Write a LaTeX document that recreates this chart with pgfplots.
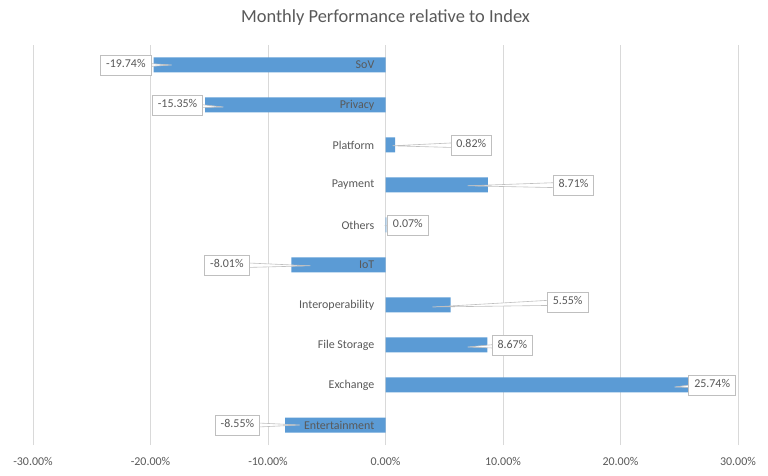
\documentclass[border=0pt]{standalone}
\usepackage{pgfplots}
\pgfplotsset{compat=1.18}
\usepackage{fontspec}
\setmainfont{Carlito}
\definecolor{barblue}{HTML}{5B9BD5}
\definecolor{txt}{HTML}{595959}
\definecolor{gridc}{HTML}{D9D9D9}
\definecolor{cbord}{HTML}{BFBFBF}
% callout: tip x, tip y, box x, box y, text
\newcommand{\callout}[5]{%
  \draw[draw=cbord, fill=white, line width=0.6bp]
    (axis cs:#1,#2) -- ([yshift=3bp]axis cs:#3,#4) -- ([yshift=-3bp]axis cs:#3,#4) -- cycle;
  \node[draw=cbord, fill=white, line width=0.8bp, text=txt, inner xsep=5.5bp, inner ysep=3bp,
        font=\fontsize{12}{14}\selectfont] at (axis cs:#3,#4) {\strut #5};}
\newcommand{\cat}[2]{%
  \node[anchor=east, inner sep=0pt, text=txt, font=\fontsize{12}{14}\selectfont]
    at ([xshift=-11bp]axis cs:0,#1) {#2};}
\begin{document}
\begin{tikzpicture}
  \begin{axis}[
    at={(0,0)}, anchor=south west,
    scale only axis,
    width=705bp, height=400bp,
    xbar, bar width=15bp,
    xmin=-30, xmax=30,
    ymin=-0.5, ymax=9.5,
    axis line style={draw=none},
    xtick={-30,-20,-10,0,10,20,30},
    xticklabels={-30.00\%,-20.00\%,-10.00\%,0.00\%,10.00\%,20.00\%,30.00\%},
    ytick=\empty,
    major tick length=0pt,
    xmajorgrids,
    grid style={gridc, line width=0.8bp},
    xticklabel style={text=txt, font=\fontsize{12}{14}\selectfont, yshift=-9bp},
    clip=false,
  ]
    \addplot[fill=barblue, draw=none] table {
      x y
      -8.55 0
      25.74 1
      8.67 2
      5.55 3
      -8.01 4
      0.07 5
      8.71 6
      0.82 7
      -15.35 8
      -19.74 9
    };
    \cat{0}{Entertainment}
    \cat{1}{Exchange}
    \cat{2}{File Storage}
    \cat{3}{Interoperability}
    \cat{4}{IoT}
    \cat{5}{Others}
    \cat{6}{Payment}
    \cat{7}{Platform}
    \cat{8}{Privacy}
    \cat{9}{SoV}
    \callout{-18.2}{9}{-22.1}{9}{-19.74\%}
    \callout{-13.8}{7.95}{-17.7}{8}{-15.35\%}
    \callout{0.6}{6.98}{7.3}{7}{0.82\%}
    \callout{7.0}{5.98}{16.0}{6}{8.71\%}
    \callout{0.05}{4.98}{1.9}{5}{0.07\%}
    \callout{-6.4}{3.98}{-13.5}{4}{-8.01\%}
    \callout{4.0}{2.95}{15.5}{3.07}{5.55\%}
    \callout{7.0}{1.95}{10.8}{1.98}{8.67\%}
    \callout{24.6}{0.95}{27.8}{1}{25.74\%}
    \callout{-7.3}{0}{-12.6}{0}{-8.55\%}
    \node[text=txt, font=\fontsize{18.5}{22}\selectfont] at ([yshift=27bp]rel axis cs:0.5,1) {Monthly Performance relative to Index};
  \end{axis}
  \path[use as bounding box] (-33bp,-31bp) rectangle (735bp,445bp);
\end{tikzpicture}
\end{document}
